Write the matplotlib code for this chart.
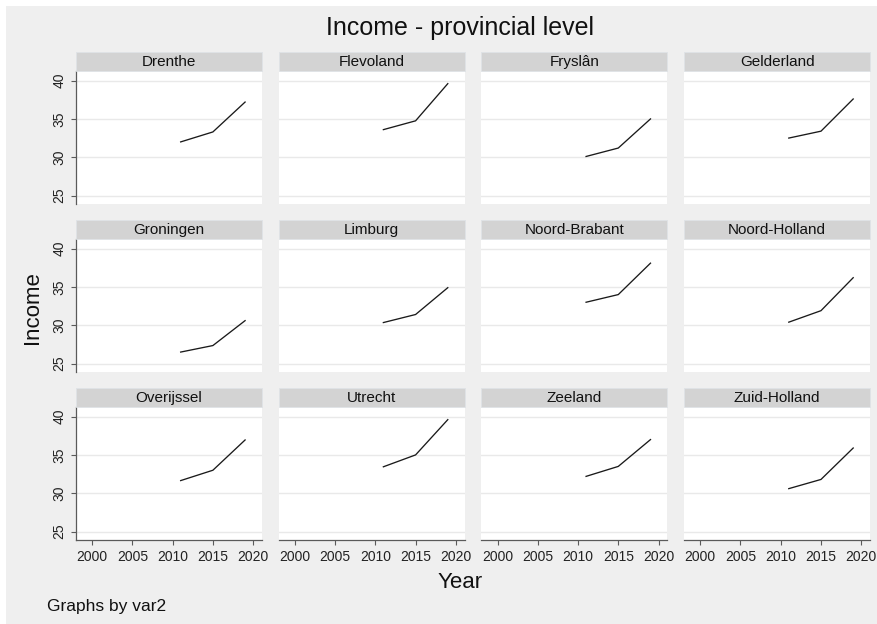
import matplotlib
matplotlib.use("Agg")
import matplotlib.pyplot as plt
from matplotlib.patches import Rectangle

plt.rcParams['font.family'] = ['Liberation Sans', 'DejaVu Sans']

# Income per province, by year
provinces = ["Drenthe", "Flevoland", "Fryslân", "Gelderland",
             "Groningen", "Limburg", "Noord-Brabant", "Noord-Holland",
             "Overijssel", "Utrecht", "Zeeland", "Zuid-Holland"]
years = [2011, 2015, 2019]
income_2011 = [32.0, 33.6, 30.1, 32.5, 26.5, 30.35, 33.0, 30.4, 31.65, 33.45, 32.2, 30.6]
income_2015 = [33.3, 34.75, 31.2, 33.4, 27.35, 31.4, 34.0, 31.9, 33.0, 35.0, 33.5, 31.8]
income_2019 = [37.2, 39.6, 35.0, 37.6, 30.6, 34.9, 38.1, 36.2, 36.95, 39.6, 37.0, 35.9]

x_ticks = [2000, 2005, 2010, 2015, 2020]
y_ticks = [25, 30, 35, 40]

W, H = 877, 624
fig = plt.figure(figsize=(W / 100, H / 100), dpi=100)
fig.patch.set_facecolor('white')
fig.add_artist(Rectangle((6 / W, 0), 1 - 6 / W, 1 - 6 / H, transform=fig.transFigure,
                         facecolor='#efefef', edgecolor='none', zorder=-10))

BG = '#efefef'
AXIS_COL = '#5a5a5a'
ncols = 4
col_step, row_step = 202.7, 168.0
pw, ph = 186.0, 133.0
strip_h = 19.0

def px_rect(x, y, w, h):
    """Convert a pixel box (top-left origin) to figure fractions."""
    return [x / W, 1 - (y + h) / H, w / W, h / H]

for i, name in enumerate(provinces):
    r, c = divmod(i, ncols)
    left = 76 + c * col_step
    top = 71 + r * row_step
    ax = fig.add_axes(px_rect(left, top, pw, ph))
    ax.set_facecolor('white')
    vals = [income_2011[i], income_2015[i], income_2019[i]]
    ax.plot(years, vals, color='#1a1a1a', lw=0.95, solid_joinstyle='miter')
    ax.set_xlim(1998.0, 2021.1)
    ax.set_ylim(23.9, 41.25)
    ax.set_xticks(x_ticks)
    ax.set_yticks(y_ticks)
    ax.grid(axis='y', color='#e9e9e9', lw=1.0)
    ax.grid(axis='x', visible=False)
    ax.set_axisbelow(True)
    for s in ax.spines.values():
        s.set_visible(False)
    if c == 0:
        ax.spines['left'].set_visible(True)
        ax.spines['left'].set_color(AXIS_COL)
        ax.spines['left'].set_linewidth(0.9)
    if r == 2:
        ax.spines['bottom'].set_visible(True)
        ax.spines['bottom'].set_color(AXIS_COL)
        ax.spines['bottom'].set_linewidth(0.9)
    ax.tick_params(axis='y', left=(c == 0), labelleft=(c == 0), length=3.3, width=0.8,
                   color=AXIS_COL, pad=3.5, labelsize=10, labelrotation=90,
                   labelcolor='#222222')
    ax.tick_params(axis='x', bottom=(r == 2), labelbottom=(r == 2), length=3.3, width=0.8,
                   color=AXIS_COL, pad=4, labelsize=10, labelcolor='#222222')
    for lab in ax.get_yticklabels():
        lab.set_verticalalignment('center')

    # facet header strip
    strip_top = 52 + r * row_step
    fig.add_artist(Rectangle((left / W, 1 - (strip_top + strip_h) / H), pw / W, strip_h / H,
                             transform=fig.transFigure, facecolor='#d3d3d3',
                             edgecolor='#dfe3e6', lw=0.6))
    fig.text((left + pw / 2) / W, 1 - (strip_top + strip_h / 2 + 0.5) / H, name,
             ha='center', va='center', fontsize=11, color='#111111')

fig.text(460 / W, 1 - 28 / H, "Income - provincial level", ha='center', va='center',
         fontsize=18, color='#111111')
fig.text(460 / W, 1 - 583 / H, "Year", ha='center', va='center', fontsize=16, color='#111111')
fig.text(32 / W, 1 - 308 / H, "Income", ha='center', va='center', rotation=90,
         fontsize=16, color='#111111')
fig.text(47 / W, 1 - 607 / H, "Graphs by var2", ha='left', va='center', fontsize=12.5,
         color='#111111')

fig.savefig('out.png', dpi=100, facecolor=fig.get_facecolor())
